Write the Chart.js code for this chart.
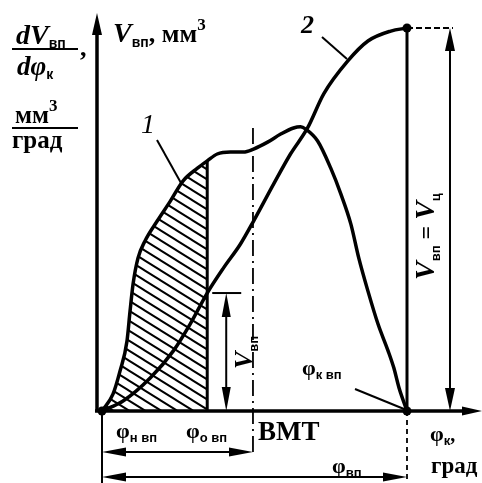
<!DOCTYPE html>
<html>
<head>
<meta charset="utf-8">
<script src="https://cdn.jsdelivr.net/npm/chart.js@4/dist/chart.umd.min.js"></script>
<style>
  html, body { margin: 0; padding: 0; background: #fff; overflow: hidden; }
  canvas { display: block; }
</style>
</head>
<body>
<canvas id="chart" width="482" height="483"></canvas>
<script>
// кривая 1: dV/dφ (скорость впрыска), φ в % от φвп
const curve1X = [0, 3.6, 5.9, 8.2, 9.2, 10.2, 11.8, 14.1, 18.1, 22.4, 26.6, 31.3, 34.5, 37.8, 42.1, 46.4, 49.7, 54.3, 58.6, 62.8, 65.1, 66.8, 70.7, 75.0, 78.3, 81.6, 84.2, 87.2, 90.5, 93.8, 95.7, 97.4, 100];
const curve1Y = [0, 4.4, 10.4, 18.3, 26.1, 33.2, 39.9, 44.4, 49.6, 54.8, 60.1, 63.4, 65.3, 67.1, 67.6, 67.6, 68.4, 70.2, 72.3, 73.9, 74.2, 73.6, 70.5, 63.4, 56.7, 48.8, 39.9, 31.3, 22.7, 15.7, 11.2, 6.0, 0];
// кривая 2: Vвп (накопленный объём)
const curve2X = [0, 6.9, 15.8, 23.4, 28.9, 34.5, 39.8, 45.4, 49.7, 56.3, 61.8, 67.4, 72.7, 80.6, 87.2, 94.7, 100];
const curve2Y = [0, 2.6, 8.6, 15.7, 22.7, 30.8, 37.3, 43.6, 49.6, 59.3, 67.1, 73.9, 82.8, 91.4, 96.6, 99.2, 100];
// характерные точки
const phiStart = 0;     // φн вп
const phiOpen = 34.5;   // φо вп
const phiTdc = 49.5;    // ВМТ
const phiEnd = 100;     // φк вп
const vOpen = 30.8;     // Vвп в момент φо вп
const vFull = 100;      // Vвп = Vц

document.addEventListener("DOMContentLoaded", function () {
  const canvas = document.getElementById('chart');
  const ctx = canvas.getContext('2d');

  const toPts = (xs, ys) => xs.map((x, i) => ({ x: x, y: ys[i] }));
  const curve1 = toPts(curve1X, curve1Y);
  const curve2 = toPts(curve2X, curve2Y);
  const hatchPts = curve1.filter(p => p.x <= phiOpen);

  // штриховка (наклон ~32°)
  const tile = document.createElement('canvas');
  tile.width = 16; tile.height = 10;
  const t = tile.getContext('2d');
  t.strokeStyle = '#000';
  t.lineWidth = 2;
  t.beginPath();
  t.moveTo(-16, -10); t.lineTo(32, 20);
  t.moveTo(-16, 0); t.lineTo(16, 20);
  t.moveTo(0, -10); t.lineTo(32, 10);
  t.stroke();
  const hatch = ctx.createPattern(tile, 'repeat');

  const SERIF = 'Liberation Serif';
  const SANS = 'Liberation Sans';

  function rich(c, parts, x, y) {
    let cx = x;
    parts.forEach(p => {
      c.font = p[1];
      c.fillText(p[0], cx, y + (p[2] || 0));
      cx += c.measureText(p[0]).width;
    });
  }

  function line(c, x1, y1, x2, y2, w, dash) {
    c.save();
    c.lineWidth = w;
    c.setLineDash(dash || []);
    c.beginPath();
    c.moveTo(x1, y1);
    c.lineTo(x2, y2);
    c.stroke();
    c.restore();
  }

  // наконечник стрелки: острие в (x,y), направление (dx,dy)
  function head(c, x, y, dx, dy, len, w) {
    const nx = -dy, ny = dx;
    c.beginPath();
    c.moveTo(x, y);
    c.lineTo(x - dx * len + nx * w / 2, y - dy * len + ny * w / 2);
    c.lineTo(x - dx * len - nx * w / 2, y - dy * len - ny * w / 2);
    c.closePath();
    c.fill();
  }

  const decor = {
    id: 'decor',
    afterDatasetsDraw(chart) {
      const c = chart.ctx;
      const X = v => chart.scales.x.getPixelForValue(v);
      const Y = v => chart.scales.y.getPixelForValue(v);
      c.save();
      c.strokeStyle = '#000';
      c.fillStyle = '#000';
      c.textBaseline = 'alphabetic';

      const x0 = X(phiStart), y0 = Y(0);
      const axisX = x0 - 5;

      // оси
      line(c, axisX, y0, axisX, 30, 3.5);
      head(c, axisX, 13, 0, -1, 22, 10);
      line(c, axisX - 2, y0, 466, y0, 3.5);
      head(c, 482, y0, 1, 0, 20, 9);

      // φо вп
      line(c, X(phiOpen), y0, X(phiOpen), Y(65.3), 3);

      // ВМТ штрих-пунктир
      line(c, X(phiTdc), Y(73.9), X(phiTdc), 457, 1.8, [16, 5, 2, 5]);

      // φк вп
      line(c, X(phiEnd), Y(vFull), X(phiEnd), y0, 3);
      line(c, X(phiEnd), y0, X(phiEnd), 483, 1.8, [5, 4]);
      line(c, X(phiEnd), Y(vFull), X(phiEnd) + 46, Y(vFull), 2, [6, 3]);

      // Vвп = Vц
      const rx = X(phiEnd) + 43;
      line(c, rx, Y(vFull) + 10, rx, y0 - 10, 2);
      head(c, rx, Y(vFull), 0, -1, 23, 10);
      head(c, rx, y0, 0, 1, 23, 10);

      // Vвп
      const vx = X(phiOpen) + 19;
      line(c, X(phiOpen) + 5, Y(vOpen), X(phiOpen) + 34, Y(vOpen), 2);
      line(c, vx, Y(vOpen) + 10, vx, y0 - 10, 2);
      head(c, vx, Y(vOpen), 0, -1, 24, 9);
      head(c, vx, y0, 0, 1, 24, 9);

      // размерные линии внизу
      line(c, x0, y0, x0, 483, 2);
      const d1 = 452, d2 = 477;
      line(c, x0 + 10, d1, X(phiTdc) - 10, d1, 2);
      head(c, x0, d1, -1, 0, 24, 9);
      head(c, X(phiTdc), d1, 1, 0, 24, 9);
      line(c, x0 + 10, d2, X(phiEnd) - 10, d2, 2);
      head(c, x0, d2, -1, 0, 24, 9);
      head(c, X(phiEnd), d2, 1, 0, 24, 9);

      // выноски
      line(c, 157, 140, 181, 183, 2);
      line(c, 322, 37, 347, 59, 2);
      line(c, 355, 389, X(phiEnd) - 3, y0 - 2, 2);

      // точки
      [[phiStart, 0], [phiEnd, 0], [phiEnd, vFull]].forEach(p => {
        c.beginPath();
        c.arc(X(p[0]), Y(p[1]), 4.5, 0, Math.PI * 2);
        c.fill();
      });

      // подписи оси Y
      rich(c, [['dV', 'italic bold 28px ' + SERIF], ['вп', 'bold 14px ' + SANS, 4]], 16, 44);
      line(c, 12, 49, 78, 49, 2);
      rich(c, [['dφ', 'italic bold 27px ' + SERIF], ['к', 'bold 14px ' + SANS, 4]], 17, 75);
      rich(c, [[',', 'bold 26px ' + SERIF]], 80, 56);
      rich(c, [['мм', 'bold 25px ' + SERIF], ['3', 'bold 17px ' + SERIF, -12]], 15, 123);
      line(c, 12, 128, 78, 128, 2);
      rich(c, [['град', 'bold 25px ' + SERIF]], 12, 148);
      rich(c, [['V', 'italic bold 28px ' + SERIF], ['вп', 'bold 14px ' + SANS, 5], [', мм', 'bold 26px ' + SERIF], ['3', 'bold 17px ' + SERIF, -12]], 113, 42);

      // номера кривых
      rich(c, [['1', 'italic 28px ' + SERIF]], 141, 133);
      rich(c, [['2', 'italic bold 26px ' + SERIF]], 301, 33);

      // подписи оси X
      const phiF = 'bold 22px ' + SERIF, subF = 'bold 13px ' + SANS;
      rich(c, [['φ', phiF], ['н вп', subF, 4]], 116, 438);
      rich(c, [['φ', phiF], ['о вп', subF, 4]], 186, 438);
      rich(c, [['ВМТ', 'bold 27px ' + SERIF]], 258, 440);
      rich(c, [['φ', phiF], ['вп', subF, 4]], 332, 473);
      rich(c, [['φ', phiF], ['к', subF, 4], [',', 'bold 20px ' + SERIF]], 430, 441);
      rich(c, [['град', 'bold 23px ' + SERIF]], 431, 473);
      rich(c, [['φ', phiF], ['к вп', subF, 4]], 302, 375);

      // вертикальные подписи
      c.save();
      c.translate(434, 280);
      c.rotate(-Math.PI / 2);
      rich(c, [['V', 'italic bold 28px ' + SERIF], ['вп', subF, 6], [' = ', 'bold 24px ' + SERIF], ['V', 'italic bold 28px ' + SERIF], ['ц', subF, 6]], 0, 0);
      c.restore();
      c.save();
      c.translate(252, 369);
      c.rotate(-Math.PI / 2);
      rich(c, [['V', 'italic bold 26px ' + SERIF], ['вп', subF, 6]], 0, 0);
      c.restore();

      c.restore();
    }
  };

  const config = {
    type: 'scatter',
    data: {
      datasets: [
        {
          label: 'hatch',
          data: hatchPts,
          showLine: true,
          borderWidth: 0,
          borderColor: 'rgba(0,0,0,0)',
          backgroundColor: hatch,
          fill: 'origin',
          pointRadius: 0,
          cubicInterpolationMode: 'monotone'
        },
        {
          label: '1',
          data: curve1,
          showLine: true,
          borderColor: '#000',
          borderWidth: 3.5,
          pointRadius: 0,
          fill: false,
          cubicInterpolationMode: 'monotone'
        },
        {
          label: '2',
          data: curve2,
          showLine: true,
          borderColor: '#000',
          borderWidth: 3.5,
          pointRadius: 0,
          fill: false,
          cubicInterpolationMode: 'monotone'
        }
      ]
    },
    options: {
      responsive: false,
      animation: false,
      layout: { padding: 0 },
      scales: {
        x: { type: 'linear', min: -33.44, max: 124.59, display: false },
        y: { type: 'linear', min: -18.8, max: 107.31, display: false }
      },
      plugins: {
        legend: { display: false },
        tooltip: { enabled: false }
      }
    },
    plugins: [decor]
  };

  new Chart(ctx, config);
});
</script>
</body>
</html>
